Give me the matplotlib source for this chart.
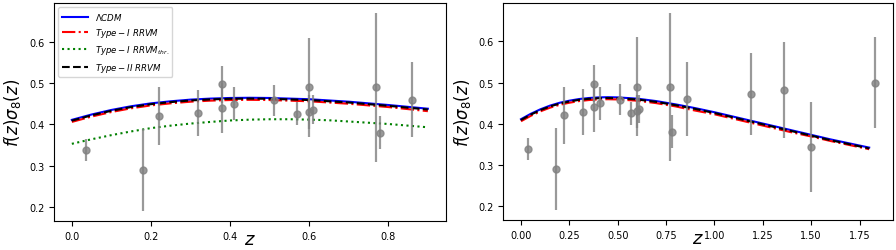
import matplotlib
matplotlib.use("Agg")
import matplotlib.pyplot as plt

# growth data: redshift, f*sigma8 and 1-sigma error
z_data = [0.035, 0.18, 0.22, 0.32, 0.38, 0.38, 0.41, 0.51, 0.57, 0.60,
          0.60, 0.61, 0.77, 0.78, 0.86, 1.19, 1.36, 1.50, 1.83]
fs8_data = [0.338, 0.29, 0.42, 0.428, 0.497, 0.44, 0.45, 0.458, 0.426, 0.49,
            0.43, 0.436, 0.49, 0.38, 0.46, 0.473, 0.482, 0.343, 0.50]
fs8_err = [0.027, 0.10, 0.07, 0.056, 0.045, 0.06, 0.04, 0.038, 0.028, 0.12,
           0.04, 0.034, 0.18, 0.04, 0.09, 0.10, 0.116, 0.11, 0.11]
n_low = 15  # points with z < 0.9 shown in the left panel

# model curves
z_th = [0.00, 0.05, 0.10, 0.15, 0.20, 0.25, 0.30, 0.35, 0.40, 0.45,
        0.50, 0.55, 0.60, 0.65, 0.70, 0.75, 0.80, 0.85, 0.90,
        1.00, 1.10, 1.20, 1.30, 1.40, 1.50, 1.60, 1.70, 1.80]
lcdm = [0.411, 0.424, 0.435, 0.444, 0.451, 0.456, 0.460, 0.4625, 0.464, 0.4645,
        0.464, 0.4625, 0.461, 0.458, 0.455, 0.451, 0.447, 0.4425, 0.438,
        0.428, 0.417, 0.406, 0.395, 0.384, 0.373, 0.362, 0.352, 0.342]
rrvm1 = [0.406, 0.419, 0.430, 0.439, 0.446, 0.451, 0.455, 0.4575, 0.459, 0.4595,
         0.459, 0.4575, 0.456, 0.453, 0.450, 0.446, 0.442, 0.437, 0.432,
         0.423, 0.412, 0.401, 0.390, 0.379, 0.369, 0.358, 0.348, 0.338]
rrvm2 = [0.409, 0.422, 0.433, 0.442, 0.449, 0.454, 0.458, 0.4605, 0.462, 0.4625,
         0.462, 0.4605, 0.459, 0.456, 0.453, 0.449, 0.445, 0.4405, 0.436,
         0.426, 0.415, 0.404, 0.393, 0.382, 0.371, 0.360, 0.350, 0.340]
rrvm1_thr = [0.353, 0.364, 0.374, 0.383, 0.391, 0.397, 0.402, 0.406, 0.4095, 0.4115,
             0.4125, 0.4125, 0.4115, 0.410, 0.407, 0.404, 0.401, 0.397, 0.393]
n_th_low = 19  # curve samples up to z = 0.9

fig = plt.figure(figsize=(8.96, 2.51), dpi=100)
ax1 = fig.add_axes([0.0603, 0.1155, 0.4371, 0.8685])
ax2 = fig.add_axes([0.5617, 0.1195, 0.4346, 0.8655])


def draw(ax, n_pts, n_th, with_thr):
    ax.plot(z_th[:n_th], lcdm[:n_th], color="b", ls="-", lw=1.5, label=r"$\Lambda CDM$")
    ax.plot(z_th[:n_th], rrvm1[:n_th], color="r", ls="-.", lw=1.5, label=r"$Type-I\ RRVM$")
    if with_thr:
        ax.plot(z_th[:n_th], rrvm1_thr[:n_th], color="g", ls=":", lw=1.5,
                label=r"$Type-I\ RRVM_{thr.}$")
    ax.plot(z_th[:n_th], rrvm2[:n_th], color="k", ls="--", lw=1.5, label=r"$Type-II\ RRVM$")
    ax.errorbar(z_data[:n_pts], fs8_data[:n_pts], yerr=fs8_err[:n_pts], fmt="o",
                color="gray", alpha=0.8, ms=5, elinewidth=1.6)
    ax.set_xlabel(r"$z$", fontsize=13, va="bottom")
    # pin the label to the bottom edge of the figure (about 27 px under the axes)
    h = ax.get_position().height * fig.get_figheight() * fig.dpi
    ax.xaxis.set_label_coords(0.5, -27.0 / h)
    ax.set_ylabel(r"$f(z)\sigma_8(z)$", fontsize=12)
    ax.tick_params(labelsize=7)


draw(ax1, n_low, n_th_low, True)
draw(ax2, len(z_data), len(z_th), False)
ax1.legend(loc="upper left", fontsize=6.2, handlelength=3)

fig.savefig("out.png", dpi=100)
